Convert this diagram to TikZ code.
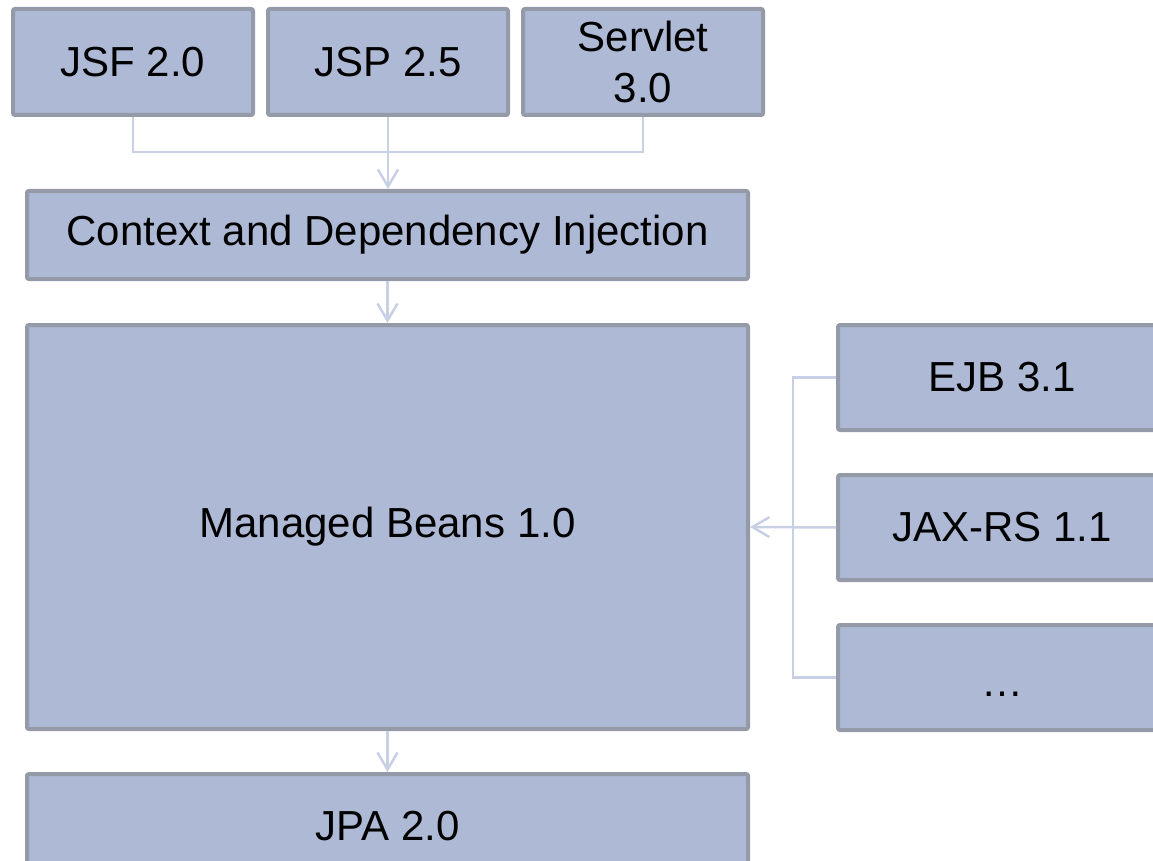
\documentclass[tikz,border=0pt]{standalone}
\usepackage{fontspec}
\setmainfont{Liberation Sans}
\usetikzlibrary{arrows.meta}
\definecolor{boxfill}{HTML}{AEB9D6}
\definecolor{boxline}{HTML}{959AA8}
\definecolor{connc}{HTML}{C8D0E5}
\begin{document}
\begin{tikzpicture}[x=1pt,y=-1pt,
  blk/.style={draw=boxline,fill=boxfill,line width=4pt,rounded corners=2pt,inner sep=0pt,
    font=\fontsize{42}{51}\selectfont,align=center},
  conn/.style={draw=connc,line width=2.5pt},
  arr/.style={conn,-{Straight Barb[length=17pt,width=20pt,line width=2.5pt]}}]
\path[use as bounding box] (0,0) rectangle (1153,861);
\clip (0,0) rectangle (1153,861);
% top row
\node[blk,minimum width=240pt,minimum height=106pt] (jsf) at (133,62) {JSF 2.0};
\node[blk,minimum width=240pt,minimum height=106pt] (jsp) at (388,62) {JSP 2.5};
\node[blk,minimum width=240pt,minimum height=106pt] (servlet) at (643,62) {Servlet\\3.0};
% column
\node[blk,minimum width=721pt,minimum height=88pt] (cdi) at (387.5,235) {Context and Dependency Injection};
\node[blk,minimum width=721pt,minimum height=404pt] (mb) at (387.5,527) {Managed Beans 1.0};
\node[blk,minimum width=721pt,minimum height=104pt] (jpa) at (387.5,826) {JPA 2.0};
% right
\node[blk,minimum width=328pt,minimum height=105pt] (ejb) at (1002,377.5) {EJB 3.1};
\node[blk,minimum width=328pt,minimum height=105pt] (jax) at (1002,527.5) {JAX-RS 1.1};
\node[blk,minimum width=328pt,minimum height=105pt] (dots) at (1002,677.5) {\strut\raisebox{-9pt}{…}};
% connectors
\coordinate (tj) at (388,152);
\draw[conn] (jsf.south) |- (tj) -| (servlet.south);
\draw[arr] (jsp.south) -- (jsp.south |- cdi.north);
\draw[arr] (cdi.south) -- (mb.north);
\draw[arr] (mb.south) -- (jpa.north);
\draw[conn] (ejb.west) -- ++(-43,0) |- (dots.west);
\draw[arr] (jax.west) -- (mb.east);
\end{tikzpicture}
\end{document}
